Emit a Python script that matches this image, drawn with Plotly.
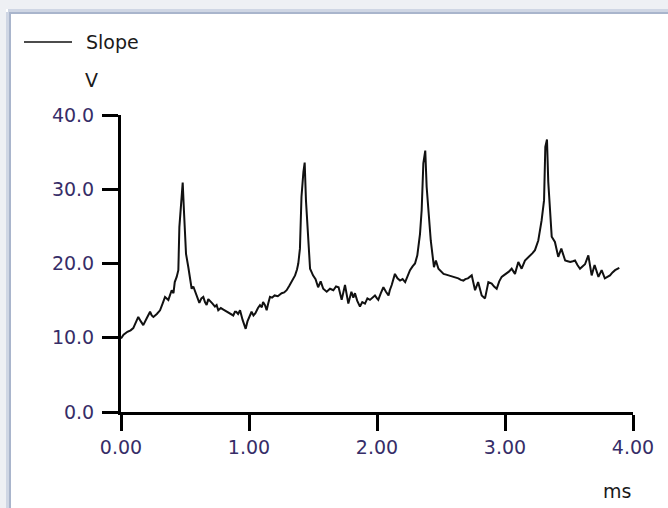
import plotly.graph_objects as go

# Time (ms) and slope (V)
time_ms = [
    0.000, 0.020, 0.050, 0.075, 0.096, 0.115, 0.135, 0.155, 0.174, 0.200,
    0.227, 0.240, 0.253, 0.280, 0.305, 0.325, 0.344, 0.370, 0.396, 0.410,
    0.420, 0.435, 0.448, 0.456, 0.470, 0.482, 0.492, 0.500, 0.508, 0.526,
    0.540, 0.552, 0.565, 0.578, 0.595, 0.612, 0.628, 0.643, 0.656, 0.669,
    0.682, 0.695, 0.715, 0.734, 0.747, 0.760, 0.780, 0.800, 0.820, 0.838,
    0.858, 0.877, 0.890, 0.900, 0.915, 0.930, 0.950, 0.962, 0.974, 0.988,
    1.000, 1.020, 1.035, 1.050, 1.070, 1.086, 1.100, 1.110, 1.125, 1.138,
    1.150, 1.164, 1.180, 1.200, 1.225, 1.255, 1.275, 1.294, 1.315, 1.333,
    1.360, 1.375, 1.385, 1.398, 1.410, 1.425, 1.435, 1.445, 1.463, 1.477,
    1.490, 1.500, 1.520, 1.540, 1.560, 1.580, 1.607, 1.633, 1.659, 1.680,
    1.700, 1.724, 1.750, 1.776, 1.800, 1.815, 1.828, 1.845, 1.867, 1.885,
    1.906, 1.925, 1.945, 1.965, 1.984, 2.000, 2.010, 2.030, 2.050, 2.070,
    2.090, 2.100, 2.115, 2.140, 2.160, 2.180, 2.200, 2.220, 2.240, 2.258,
    2.278, 2.297, 2.315, 2.336, 2.349, 2.362, 2.377, 2.388, 2.404, 2.420,
    2.445, 2.460, 2.480, 2.500, 2.520, 2.540, 2.560, 2.580, 2.597, 2.615,
    2.635, 2.655, 2.675, 2.690, 2.710, 2.725, 2.740, 2.766, 2.790, 2.818,
    2.844, 2.870, 2.896, 2.915, 2.935, 2.955, 2.974, 2.990, 3.010, 3.030,
    3.052, 3.078, 3.104, 3.130, 3.156, 3.175, 3.195, 3.215, 3.234, 3.260,
    3.286, 3.305, 3.315, 3.328, 3.338, 3.352, 3.365, 3.390, 3.416, 3.440,
    3.470, 3.490, 3.510, 3.530, 3.547, 3.566, 3.586, 3.605, 3.625, 3.651,
    3.677, 3.700, 3.730, 3.755, 3.780, 3.800, 3.820, 3.840, 3.860, 3.893,
]
slope_v = [
    9.9, 10.4, 10.8, 11.0, 11.3, 12.0, 12.8, 12.2, 11.7, 12.6,
    13.5, 13.0, 12.8, 13.2, 13.7, 14.6, 15.5, 15.1, 16.4, 16.0,
    17.5, 18.2, 19.1, 24.9, 29.0, 30.9, 27.0, 24.0, 21.3, 19.5,
    17.5, 16.6, 16.9, 16.3, 15.5, 14.7, 15.3, 15.5, 14.8, 14.4,
    15.2, 15.0, 14.6, 14.2, 14.4, 13.7, 14.0, 13.8, 13.6, 13.5,
    13.2, 13.0, 13.5, 13.5, 13.2, 13.7, 12.4, 11.8, 11.2, 12.2,
    12.8, 13.5, 13.0, 13.3, 14.0, 14.4, 14.1, 14.8, 14.4, 13.7,
    14.6, 15.5, 15.4, 15.7, 15.6, 16.0, 16.1, 16.4, 17.0, 17.5,
    18.4, 19.2, 20.0, 22.0, 29.0, 32.3, 33.6, 28.5, 24.0, 19.3,
    18.8, 18.4, 17.9, 16.8, 17.6, 16.6, 16.2, 16.6, 16.4, 16.9,
    16.8, 15.1, 17.1, 14.6, 16.2, 15.4, 16.0, 15.0, 14.2, 14.8,
    14.6, 15.3, 15.1, 15.4, 15.7, 15.3, 15.1, 16.0, 16.8, 16.2,
    15.7, 16.4, 17.1, 18.6, 18.0, 17.7, 17.9, 17.5, 18.4, 19.1,
    19.6, 20.0, 21.1, 24.0, 27.2, 33.5, 35.2, 30.3, 26.7, 23.1,
    19.5, 20.4, 19.3, 18.9, 18.6, 18.5, 18.4, 18.3, 18.2, 18.1,
    18.0, 17.8, 17.7, 17.9, 18.0, 18.2, 18.4, 16.4, 17.5, 15.7,
    15.3, 17.5, 17.3, 16.9, 16.6, 17.6, 18.2, 18.4, 18.6, 18.9,
    19.3, 18.6, 20.2, 19.3, 20.4, 20.7, 21.1, 21.4, 21.8, 23.1,
    25.8, 28.5, 35.7, 36.7, 31.0, 27.2, 23.6, 22.9, 20.9, 22.0,
    20.4, 20.3, 20.2, 20.3, 20.4, 19.8, 19.3, 19.6, 19.9, 21.1,
    18.4, 19.8, 18.2, 19.1, 18.0, 18.2, 18.4, 18.8, 19.1, 19.4,
]

series_name = "Slope"
y_unit = "V"
x_unit = "ms"
x_ticks = [0, 1, 2, 3, 4]
y_ticks = [0, 10, 20, 30, 40]

W, H = 668, 508
ML, MR, MT, MB = 121, 35, 115, 96
PW, PH = W - ML - MR, H - MT - MB


def px(x):
    return (x - ML) / PW


def py(y):
    return (H - MB - y) / PH


fig = go.Figure()
fig.add_trace(go.Scatter(
    x=time_ms, y=slope_v, mode="lines", name=series_name,
    line=dict(color="#111111", width=2), showlegend=False,
))

FONT = "DejaVu Sans, Verdana, sans-serif"
tick_font = dict(family=FONT, size=19, color="#362d68")
text_font = dict(family=FONT, size=19, color="#1a1a1a")

fig.update_xaxes(
    range=[0, 4], tickvals=x_ticks, tickformat=".2f",
    showline=True, linecolor="black", linewidth=3,
    ticks="outside", ticklen=16, tickwidth=3, tickcolor="black",
    showgrid=False, zeroline=False, tickfont=tick_font, ticklabelstandoff=0,
)
fig.update_yaxes(
    range=[0, 40], tickvals=y_ticks, tickformat=".1f",
    showline=True, linecolor="black", linewidth=3,
    ticks="outside", ticklen=16, tickwidth=3, tickcolor="black",
    showgrid=False, zeroline=False, tickfont=tick_font, ticklabelstandoff=4,
)

shapes = [
    # window frame (top / left bevel)
    dict(type="rect", xref="paper", yref="paper", x0=px(0), x1=px(W), y0=py(0), y1=py(9),
         fillcolor="#eef0f4", line_width=0, layer="below"),
    dict(type="rect", xref="paper", yref="paper", x0=px(8), x1=px(W), y0=py(9), y1=py(12),
         fillcolor="#cfd6e4", line_width=0, layer="below"),
    dict(type="rect", xref="paper", yref="paper", x0=px(8), x1=px(W), y0=py(12), y1=py(14),
         fillcolor="#a9b5cc", line_width=0, layer="below"),
    dict(type="rect", xref="paper", yref="paper", x0=px(0), x1=px(6), y0=py(0), y1=py(H),
         fillcolor="#eef0f4", line_width=0, layer="below"),
    dict(type="rect", xref="paper", yref="paper", x0=px(6), x1=px(9), y0=py(12), y1=py(H),
         fillcolor="#cfd6e4", line_width=0, layer="below"),
    dict(type="rect", xref="paper", yref="paper", x0=px(9), x1=px(11), y0=py(12), y1=py(H),
         fillcolor="#a9b5cc", line_width=0, layer="below"),
    # legend sample line
    dict(type="line", xref="paper", yref="paper", x0=px(24), x1=px(72), y0=py(42), y1=py(42),
         line=dict(color="#111111", width=1.5)),
]

annotations = [
    dict(text=series_name, xref="paper", yref="paper", x=px(84), y=py(42),
         xanchor="left", yanchor="middle", showarrow=False, font=text_font),
    dict(text=y_unit, xref="paper", yref="paper", x=px(91), y=py(80),
         xanchor="center", yanchor="middle", showarrow=False, font=text_font),
    dict(text=x_unit, xref="paper", yref="paper", x=px(617), y=py(491),
         xanchor="center", yanchor="middle", showarrow=False, font=text_font),
]

fig.update_layout(
    width=W, height=H,
    margin=dict(l=ML, r=MR, t=MT, b=MB, pad=0),
    paper_bgcolor="white", plot_bgcolor="white",
    shapes=shapes, annotations=annotations,
    showlegend=False,
)

fig.write_html(
    "out.html",
    config={"displayModeBar": False},
    post_script="document.body.style.margin='0';document.body.style.overflow='hidden';",
)
